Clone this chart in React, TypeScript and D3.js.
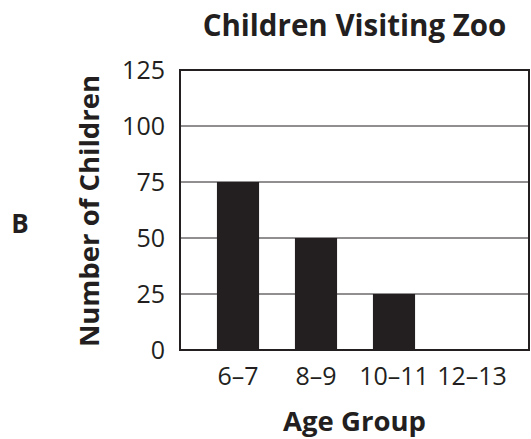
import { useEffect, useRef } from "react"
import * as d3 from "d3"

const AGE_GROUPS = ["6–7", "8–9", "10–11", "12–13"]
const CHILDREN = [75, 50, 25, 0]
const Y_TICKS = [0, 25, 50, 75, 100, 125]

const W = 531
const H = 439
const PLOT_L = 180
const PLOT_R = 529
const PLOT_T = 70
const PLOT_B = 350
const INK = "#231f20"
const FONT = "'Open Sans', 'Noto Sans', sans-serif"

export default function App() {
  const svgRef = useRef<SVGSVGElement>(null)

  useEffect(() => {
    if (!svgRef.current) return
    const svg = d3.select(svgRef.current)
    svg.selectAll("*").remove()

    const x = d3
      .scaleBand()
      .domain(AGE_GROUPS)
      .range([199, 511])
      .paddingInner(0.46)
      .paddingOuter(0.23)

    const y = d3.scaleLinear().domain([0, 125]).range([PLOT_B, PLOT_T])

    // gridlines
    svg
      .append("g")
      .selectAll("line")
      .data(Y_TICKS.filter((t) => t > 0 && t < 125))
      .join("line")
      .attr("x1", PLOT_L)
      .attr("x2", PLOT_R)
      .attr("y1", (d) => y(d))
      .attr("y2", (d) => y(d))
      .attr("stroke", INK)
      .attr("stroke-width", 1)

    // bars
    svg
      .append("g")
      .selectAll("rect")
      .data(AGE_GROUPS.map((g, i) => ({ g, v: CHILDREN[i] })))
      .join("rect")
      .attr("x", (d) => x(d.g)!)
      .attr("width", x.bandwidth())
      .attr("y", (d) => y(d.v))
      .attr("height", (d) => y(0) - y(d.v))
      .attr("fill", INK)

    // frame
    svg
      .append("rect")
      .attr("x", PLOT_L)
      .attr("y", PLOT_T)
      .attr("width", PLOT_R - PLOT_L)
      .attr("height", PLOT_B - PLOT_T)
      .attr("fill", "none")
      .attr("stroke", INK)
      .attr("stroke-width", 2)

    // y tick labels
    svg
      .append("g")
      .selectAll("text")
      .data(Y_TICKS)
      .join("text")
      .attr("x", 165)
      .attr("y", (d) => y(d))
      .attr("dy", "0.36em")
      .attr("text-anchor", "end")
      .attr("font-family", FONT)
      .attr("font-size", 25)
      .attr("fill", INK)
      .text((d) => d)

    // x tick labels
    svg
      .append("g")
      .selectAll("text")
      .data(AGE_GROUPS)
      .join("text")
      .attr("x", (d) => x(d)! + x.bandwidth() / 2)
      .attr("y", 385)
      .attr("text-anchor", "middle")
      .attr("font-family", FONT)
      .attr("font-size", 25)
      .attr("fill", INK)
      .text((d) => d)

    // title
    svg
      .append("text")
      .attr("x", (PLOT_L + PLOT_R) / 2)
      .attr("y", 36)
      .attr("text-anchor", "middle")
      .attr("font-family", FONT)
      .attr("font-size", 29.5)
      .attr("font-weight", 700)
      .attr("fill", INK)
      .text("Children Visiting Zoo")

    // x axis title
    svg
      .append("text")
      .attr("x", (PLOT_L + PLOT_R) / 2)
      .attr("y", 431)
      .attr("text-anchor", "middle")
      .attr("font-family", FONT)
      .attr("font-size", 27.5)
      .attr("font-weight", 700)
      .attr("fill", INK)
      .text("Age Group")

    // y axis title
    svg
      .append("text")
      .attr("transform", `translate(99,211) rotate(-90)`)
      .attr("text-anchor", "middle")
      .attr("font-family", FONT)
      .attr("font-size", 27.5)
      .attr("font-weight", 700)
      .attr("fill", INK)
      .text("Number of Children")

    // panel letter
    svg
      .append("text")
      .attr("x", 20)
      .attr("y", 233)
      .attr("text-anchor", "middle")
      .attr("font-family", FONT)
      .attr("font-size", 26)
      .attr("font-weight", 700)
      .attr("fill", INK)
      .text("B")
  }, [])

  return (
    <svg
      ref={svgRef}
      width={W}
      height={H}
      style={{ position: "absolute", left: 0, top: 0, background: "#fff" }}
    />
  )
}
